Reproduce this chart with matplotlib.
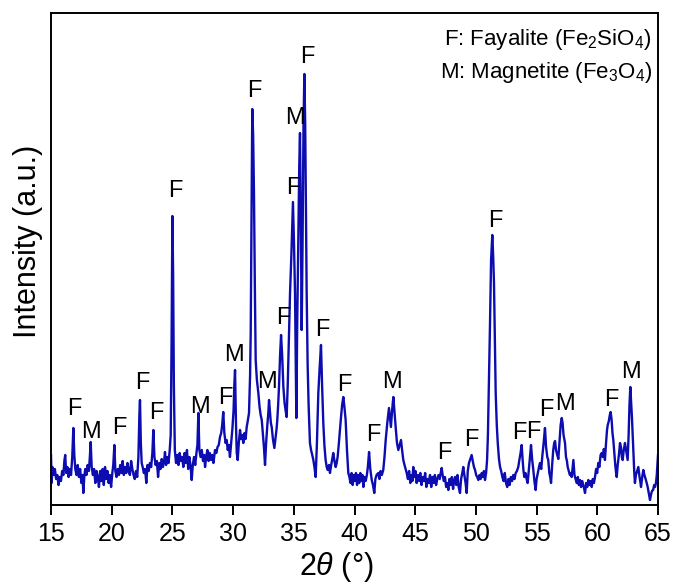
import matplotlib
matplotlib.use("Agg")
import matplotlib.pyplot as plt

plt.rcParams["font.family"] = ["Liberation Sans", "DejaVu Sans"]
plt.rcParams["mathtext.fontset"] = "custom"
plt.rcParams["mathtext.rm"] = "Liberation Sans"
plt.rcParams["mathtext.it"] = "Liberation Sans:italic"

# XRD pattern (2theta in degrees, intensity in arbitrary units)
two_theta = [
    15.00, 15.05, 15.12, 15.22, 15.32, 15.42, 15.52, 15.62, 15.72, 15.82, 15.92, 16.02, 16.10, 16.17, 16.25, 16.35,
    16.45, 16.55, 16.65, 16.75, 16.84, 16.92, 17.00, 17.10, 17.20, 17.30, 17.40, 17.50, 17.60, 17.66, 17.74, 17.82,
    17.92, 18.02, 18.12, 18.20, 18.27, 18.35, 18.45, 18.55, 18.65, 18.75, 18.85, 18.95, 19.05, 19.15, 19.25, 19.35,
    19.45, 19.55, 19.65, 19.75, 19.85, 19.95, 20.05, 20.13, 20.22, 20.30, 20.40, 20.50, 20.60, 20.70, 20.80, 20.90,
    21.00, 21.10, 21.20, 21.30, 21.40, 21.50, 21.60, 21.70, 21.80, 21.90, 22.00, 22.10, 22.20, 22.28, 22.33, 22.40,
    22.47, 22.55, 22.65, 22.75, 22.85, 22.95, 23.05, 23.15, 23.25, 23.35, 23.43, 23.52, 23.62, 23.72, 23.82, 23.92,
    24.02, 24.12, 24.22, 24.32, 24.39, 24.48, 24.58, 24.68, 24.78, 24.86, 24.93, 25.00, 25.06, 25.12, 25.20, 25.30,
    25.40, 25.50, 25.60, 25.70, 25.80, 25.90, 26.00, 26.10, 26.20, 26.30, 26.40, 26.50, 26.59, 26.68, 26.78, 26.88,
    26.98, 27.06, 27.14, 27.22, 27.32, 27.42, 27.52, 27.62, 27.69, 27.78, 27.88, 27.98, 28.08, 28.18, 28.28, 28.38,
    28.51, 28.62, 28.72, 28.82, 28.92, 29.02, 29.10, 29.19, 29.28, 29.38, 29.47, 29.56, 29.65, 29.74, 29.84, 29.94,
    30.04, 30.10, 30.16, 30.24, 30.30, 30.38, 30.47, 30.57, 30.66, 30.75, 30.84, 30.94, 31.03, 31.12, 31.22, 31.31,
    31.40, 31.45, 31.52, 31.58, 31.65, 31.72, 31.79, 31.86, 31.96, 32.08, 32.18, 32.27, 32.36, 32.45, 32.54, 32.63,
    32.72, 32.82, 32.90, 32.96, 33.04, 33.11, 33.18, 33.28, 33.40, 33.50, 33.58, 33.64, 33.71, 33.78, 33.87, 33.95,
    34.04, 34.14, 34.24, 34.32, 34.41, 34.50, 34.58, 34.69, 34.80, 34.93, 35.02, 35.10, 35.16, 35.21, 35.28, 35.38,
    35.45, 35.51, 35.58, 35.65, 35.72, 35.80, 35.87, 35.94, 36.00, 36.06, 36.14, 36.22, 36.33, 36.42, 36.52, 36.61,
    36.70, 36.80, 36.90, 36.96, 37.02, 37.12, 37.24, 37.33, 37.43, 37.52, 37.62, 37.71, 37.80, 37.90, 37.98, 38.08,
    38.17, 38.25, 38.35, 38.45, 38.53, 38.61, 38.70, 38.80, 38.89, 38.98, 39.08, 39.17, 39.27, 39.38, 39.49, 39.58,
    39.67, 39.76, 39.85, 39.94, 40.03, 40.12, 40.21, 40.30, 40.39, 40.48, 40.57, 40.66, 40.73, 40.82, 40.92, 41.02,
    41.10, 41.20, 41.30, 41.42, 41.52, 41.63, 41.72, 41.82, 41.96, 42.05, 42.15, 42.25, 42.37, 42.47, 42.57, 42.70,
    42.84, 42.92, 43.00, 43.10, 43.20, 43.30, 43.39, 43.50, 43.61, 43.72, 43.83, 43.92, 44.02, 44.12, 44.21, 44.30,
    44.40, 44.50, 44.60, 44.70, 44.77, 44.84, 44.92, 45.02, 45.12, 45.22, 45.32, 45.42, 45.52, 45.62, 45.72, 45.82,
    45.92, 46.02, 46.12, 46.22, 46.32, 46.42, 46.52, 46.62, 46.72, 46.82, 46.92, 47.02, 47.10, 47.18, 47.26, 47.36,
    47.45, 47.55, 47.64, 47.73, 47.82, 47.92, 48.02, 48.12, 48.20, 48.28, 48.38, 48.48, 48.58, 48.69, 48.78, 48.88,
    48.96, 49.05, 49.15, 49.24, 49.33, 49.43, 49.54, 49.65, 49.74, 49.84, 49.93, 50.02, 50.11, 50.20, 50.30, 50.39,
    50.48, 50.57, 50.66, 50.75, 50.84, 50.92, 50.99, 51.07, 51.16, 51.25, 51.35, 51.42, 51.49, 51.56, 51.63, 51.72,
    51.80, 51.90, 51.99, 52.08, 52.18, 52.28, 52.38, 52.48, 52.58, 52.68, 52.78, 52.88, 52.98, 53.08, 53.18, 53.28,
    53.38, 53.49, 53.58, 53.68, 53.77, 53.85, 53.92, 53.99, 54.08, 54.18, 54.26, 54.36, 54.45, 54.54, 54.63, 54.73,
    54.82, 54.92, 55.00, 55.10, 55.20, 55.28, 55.38, 55.48, 55.58, 55.69, 55.78, 55.88, 55.96, 56.05, 56.12, 56.19,
    56.28, 56.37, 56.45, 56.52, 56.60, 56.70, 56.79, 56.88, 56.98, 57.07, 57.14, 57.22, 57.34, 57.42, 57.50, 57.56,
    57.65, 57.74, 57.82, 57.89, 57.96, 58.03, 58.12, 58.21, 58.30, 58.40, 58.48, 58.57, 58.66, 58.75, 58.84, 58.92,
    58.99, 59.08, 59.17, 59.26, 59.35, 59.45, 59.54, 59.63, 59.72, 59.81, 59.90, 59.99, 60.08, 60.17, 60.27, 60.36,
    60.45, 60.54, 60.63, 60.72, 60.80, 60.86, 60.95, 61.03, 61.10, 61.18, 61.25, 61.32, 61.40, 61.48, 61.55, 61.60,
    61.68, 61.78, 61.87, 61.95, 62.02, 62.09, 62.18, 62.28, 62.36, 62.44, 62.50, 62.58, 62.65, 62.72, 62.80, 62.86,
    62.91, 62.98, 63.04, 63.10, 63.18, 63.28, 63.38, 63.48, 63.56, 63.60, 63.70, 63.79, 63.88, 63.98, 64.07, 64.15,
    64.24, 64.34, 64.42, 64.50, 64.60, 64.68, 64.76, 64.83, 64.90, 64.97, 65.00,
]
intensity = [
    50, 22, 38, 30, 36, 26, 30, 20, 28, 24, 34, 30, 44, 50, 32, 38,
    28, 36, 30, 48, 77, 50, 36, 30, 40, 28, 36, 22, 30, 12, 28, 36,
    30, 40, 34, 48, 63, 38, 30, 36, 22, 34, 28, 18, 34, 24, 36, 20,
    38, 26, 34, 22, 30, 18, 32, 40, 60, 34, 28, 36, 30, 40, 32, 44,
    30, 38, 32, 42, 34, 30, 44, 36, 30, 26, 34, 28, 48, 90, 105, 62,
    42, 38, 32, 36, 22, 40, 34, 42, 38, 52, 75, 48, 40, 44, 28, 42,
    36, 46, 38, 44, 53, 40, 48, 42, 55, 70, 160, 289, 230, 120, 55, 42,
    50, 40, 52, 44, 48, 38, 52, 42, 55, 36, 48, 38, 25, 40, 48, 40,
    52, 60, 92, 55, 48, 55, 44, 50, 38, 48, 55, 44, 52, 45, 50, 42,
    55, 52, 58, 60, 68, 72, 80, 93, 72, 62, 65, 55, 60, 48, 62, 76,
    95, 120, 135, 80, 52, 45, 62, 75, 66, 70, 62, 72, 66, 78, 85, 92,
    130, 172, 290, 396, 370, 312, 220, 145, 125, 112, 98, 90, 85, 72, 58, 40,
    62, 80, 92, 105, 92, 82, 78, 66, 57, 68, 76, 85, 100, 118, 150, 170,
    150, 118, 102, 95, 88, 120, 160, 212, 250, 303, 260, 212, 140, 87, 180, 278,
    340, 372, 280, 175, 260, 380, 431, 380, 300, 212, 140, 100, 62, 55, 50, 45,
    38, 28, 60, 85, 112, 135, 160, 120, 82, 60, 45, 38, 35, 40, 32, 40,
    46, 52, 44, 38, 42, 48, 60, 75, 88, 100, 108, 98, 85, 55, 32, 28,
    22, 32, 20, 30, 24, 32, 20, 30, 22, 32, 24, 30, 18, 28, 24, 30,
    38, 53, 36, 25, 20, 12, 26, 30, 32, 26, 34, 30, 35, 48, 65, 82,
    97, 88, 78, 95, 108, 92, 78, 62, 55, 60, 65, 55, 45, 40, 36, 32,
    26, 34, 22, 30, 24, 38, 28, 34, 22, 30, 24, 32, 20, 28, 24, 32,
    18, 26, 22, 30, 18, 28, 22, 30, 20, 26, 30, 26, 32, 37, 30, 24,
    28, 18, 22, 15, 26, 20, 28, 16, 24, 28, 20, 30, 18, 12, 26, 32,
    38, 30, 22, 12, 34, 42, 46, 50, 44, 38, 35, 30, 28, 25, 30, 26,
    32, 28, 34, 25, 32, 45, 70, 120, 180, 245, 270, 250, 222, 165, 112, 80,
    62, 46, 38, 34, 28, 24, 32, 22, 18, 26, 20, 28, 24, 30, 26, 32,
    34, 38, 45, 52, 60, 45, 34, 28, 32, 26, 22, 35, 48, 60, 46, 35,
    24, 15, 26, 32, 38, 42, 36, 50, 62, 77, 58, 48, 45, 32, 28, 22,
    40, 55, 62, 64, 55, 50, 46, 62, 80, 87, 82, 70, 62, 48, 44, 38,
    34, 30, 32, 28, 36, 45, 30, 26, 22, 28, 20, 25, 18, 24, 20, 16,
    12, 22, 18, 25, 20, 24, 18, 26, 22, 28, 36, 32, 42, 38, 50, 52,
    48, 56, 45, 62, 75, 80, 84, 90, 93, 85, 72, 65, 52, 40, 32, 28,
    40, 50, 62, 58, 48, 45, 55, 62, 56, 50, 45, 70, 100, 118, 100, 86,
    72, 50, 34, 22, 30, 34, 38, 28, 22, 18, 28, 35, 30, 26, 22, 18,
    12, 5, 10, 14, 15, 20, 18, 22, 30, 45, 50,
]

# phase markers above the peaks
label_theta = [16.95, 18.29, 20.62, 22.5, 23.7, 25.25, 27.28, 29.36, 30.08, 31.75, 32.78, 34.16, 34.93,
               35.12, 36.08, 37.33, 39.2, 41.55, 43.06, 47.42, 49.65, 51.63, 53.55, 54.72, 55.83, 57.34,
               61.17, 62.8]
label_height = [96, 73, 77, 122, 92, 314, 98, 107, 150, 414, 123, 187, 317,
                387, 448, 175, 120, 70, 123, 52, 65, 284, 72, 73, 95, 101,
                105, 133]
label_text = ["F", "M", "F", "F", "F", "F", "M", "F", "M", "F", "M", "F", "F",
              "M", "F", "F", "F", "F", "M", "F", "F", "F", "F", "F", "F", "M",
              "F", "M"]

legend_lines = [r"F: Fayalite (Fe$_2$SiO$_4$)", r"M: Magnetite (Fe$_3$O$_4$)"]

fig = plt.figure(figsize=(6.86, 5.83), dpi=100)
ax = fig.add_axes([51 / 686, 78 / 583, 607 / 686, 492 / 583])

ax.plot(two_theta, intensity, color="#0c0cb0", lw=1.7)

for x, y, t in zip(label_theta, label_height, label_text):
    ax.text(x, y, t, ha="center", va="center", fontsize=17)

ax.text(0.99, 0.947, legend_lines[0], transform=ax.transAxes, ha="right", va="center", fontsize=16)
ax.text(0.99, 0.880, legend_lines[1], transform=ax.transAxes, ha="right", va="center", fontsize=16)

ax.set_xlim(15, 65)
ax.set_ylim(0, 492)
ax.set_xticks(range(15, 66, 5))
ax.set_yticks([])
ax.tick_params(axis="x", direction="out", length=7, width=1.4, labelsize=18, pad=5)
for s in ax.spines.values():
    s.set_linewidth(1.4)

ax.set_xlabel(r"2$\theta$ (°)", fontsize=22)
ax.xaxis.set_label_coords(0.47, -0.125)
ax.xaxis.label.set_va("center")
ax.set_ylabel("Intensity (a.u.)", fontsize=22)
ax.yaxis.set_label_coords(-0.038, 0.535)
ax.yaxis.label.set_va("center")

fig.savefig("out.png", dpi=100)
